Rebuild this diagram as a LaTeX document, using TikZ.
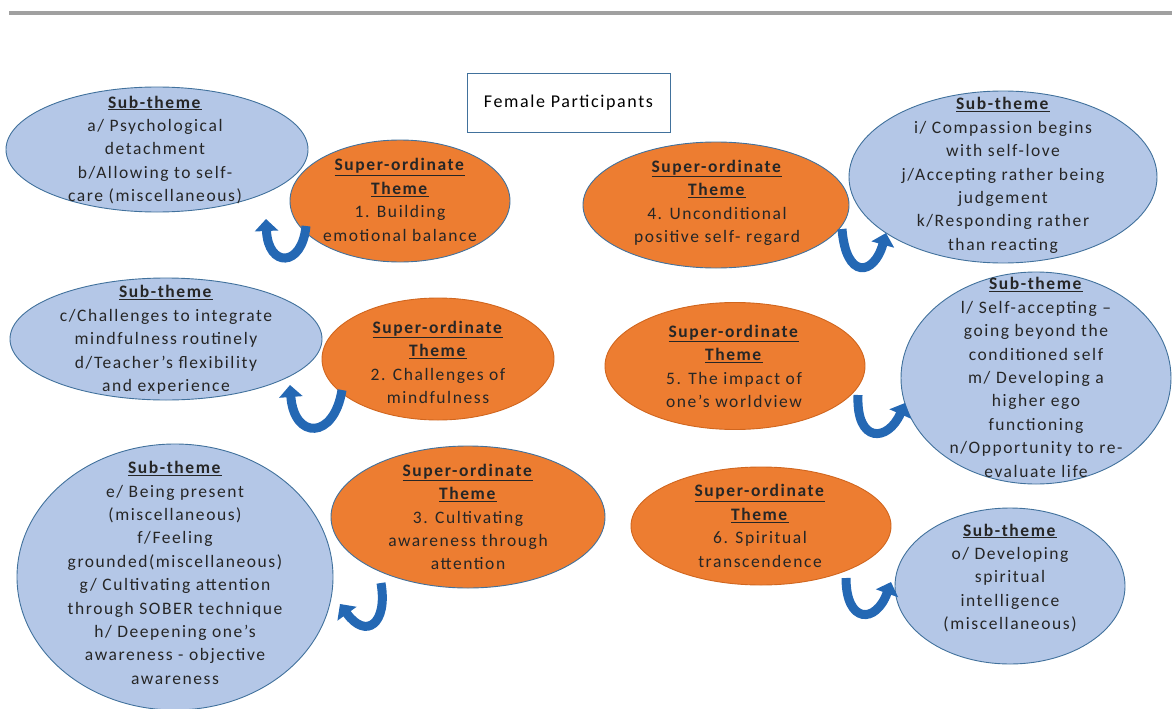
\documentclass[tikz,border=0pt]{standalone}
\usepackage{fontspec}
\setmainfont{Carlito}[LetterSpace=9]
\usetikzlibrary{shapes.geometric,arrows.meta}
\definecolor{subfill}{HTML}{B4C7E7}
\definecolor{supfill}{HTML}{ED7D31}
\definecolor{edge}{HTML}{41719C}
\definecolor{oedge}{HTML}{D0661F}
\definecolor{arr}{HTML}{2468B4}
\definecolor{rule}{HTML}{A0A0A0}
\tikzset{
  subell/.style={ellipse, draw=edge, line width=0.9pt, fill=subfill, inner sep=0pt},
  supell/.style={ellipse, draw=edge, line width=0.9pt, fill=supfill, inner sep=0pt},
  supello/.style={supell, draw=oedge},
  txt/.style={align=center, inner sep=0pt, font=\fontsize{17.5}{23.4}\selectfont, text=black!85},
  uturn/.style={draw=arr, line width=9pt, -{Triangle[length=12pt,width=23pt]}},
}
\newcommand{\hd}[1]{\underline{\textbf{#1}}}
\begin{document}
\begin{tikzpicture}[x=1pt,y=-1pt]
\useasboundingbox (0,0) rectangle (1172,709);
\fill[rule] (9,11) rectangle (1172,15);
% title
\node[draw=edge, line width=0.9pt, minimum width=203pt, minimum height=59pt, inner sep=0pt, font=\fontsize{18}{22}\selectfont] (title) at (568.5,102.5) {Female Participants};
% ellipses
\node[subell, minimum width=302pt, minimum height=125pt] (sA) at (157,149.5) {};
\node[supell, minimum width=220pt, minimum height=122pt] (o1) at (400,201) {};
\node[supell, minimum width=266pt, minimum height=126pt] (o4) at (716,205) {};
\node[subell, minimum width=308pt, minimum height=172pt] (sI) at (1003,177) {};
\node[subell, minimum width=312pt, minimum height=122pt] (sC) at (166,339) {};
\node[supello, minimum width=232pt, minimum height=122pt] (o2) at (438,359) {};
\node[supello, minimum width=260pt, minimum height=127pt] (o5) at (735,366) {};
\node[subell, minimum width=270pt, minimum height=212pt] (sL) at (1036,378) {};
\node[subell, minimum width=316pt, minimum height=266pt] (sE) at (175,577) {};
\node[supell, minimum width=274pt, minimum height=142pt] (o3) at (468,517) {};
\node[supello, minimum width=260pt, minimum height=118pt] (o6) at (761,526) {};
\node[subell, minimum width=230pt, minimum height=156pt] (sO) at (1010,586) {};
% texts
\node[txt] (tA) at (155,150) {\hd{Sub-theme}\\a/ Psychological\\detachment\\b/Allowing to self-\\care (miscellaneous)};
\node[txt] (t1) at (400,200) {\hd{Super-ordinate}\\\hd{Theme}\\1. Building\\emotional balance};
\node[txt] (t4) at (717,203) {\hd{Super-ordinate}\\\hd{Theme}\\4. Unconditional\\positive self- regard};
\node[txt] (tI) at (1003,175.5) {\hd{Sub-theme}\\i/ Compassion begins\\with self-love\\j/Accepting rather being\\judgement\\k/Responding rather\\than reacting};
\node[txt] (tC) at (166,340) {\hd{Sub-theme}\\c/Challenges to integrate\\mindfulness routinely\\d/Teacher’s flexibility\\and experience};
\node[txt] (t2) at (438,362.5) {\hd{Super-ordinate}\\\hd{Theme}\\2. Challenges of\\mindfulness};
\node[txt] (t5) at (734,366.5) {\hd{Super-ordinate}\\\hd{Theme}\\5. The impact of\\one’s worldview};
\node[txt] (tL) at (1036,377.5) {\hd{Sub-theme}\\l/ Self-accepting --\\going beyond the\\conditioned self\\m/ Developing a\\higher ego\\functioning\\n/Opportunity to re-\\evaluate life};
\node[txt] (tE) at (175,573) {\hd{Sub-theme}\\e/ Being present\\(miscellaneous)\\f/Feeling\\grounded(miscellaneous)\\g/ Cultivating attention\\through SOBER technique\\h/ Deepening one’s\\awareness -  objective\\awareness};
\node[txt] (t3) at (468,517) {\hd{Super-ordinate}\\\hd{Theme}\\3. Cultivating\\awareness through\\attention};
\node[txt] (t6) at (760,526) {\hd{Super-ordinate}\\\hd{Theme}\\6. Spiritual\\transcendence};
\node[txt] (tO) at (1010,578) {\hd{Sub-theme}\\o/ Developing\\spiritual\\intelligence\\(miscellaneous)};
% curved arrows
\coordinate (a1s) at (306,226); \coordinate (a1e) at (266,219);
\draw[uturn] (a1s) .. controls (302,268) and (268,268) .. (a1e);
\coordinate (a2s) at (842,229); \coordinate (a2e) at (886,233);
\draw[uturn] (a2s) .. controls (846,280) and (874,276) .. (a2e);
\coordinate (a3s) at (342,390); \coordinate (a3e) at (290,385);
\draw[uturn] (a3s) .. controls (334,440) and (294,440) .. (a3e);
\coordinate (a4s) at (858,395); \coordinate (a4e) at (905,403);
\draw[uturn] (a4s) .. controls (856,444) and (888,442) .. (a4e);
\coordinate (a5s) at (381,583); \coordinate (a5e) at (340,604);
\draw[uturn] (a5s) .. controls (388,624) and (366,640) .. (a5e);
\coordinate (a6s) at (846,578); \coordinate (a6e) at (891,582);
\draw[uturn] (a6s) .. controls (846,624) and (876,624) .. (a6e);
\end{tikzpicture}
\end{document}
